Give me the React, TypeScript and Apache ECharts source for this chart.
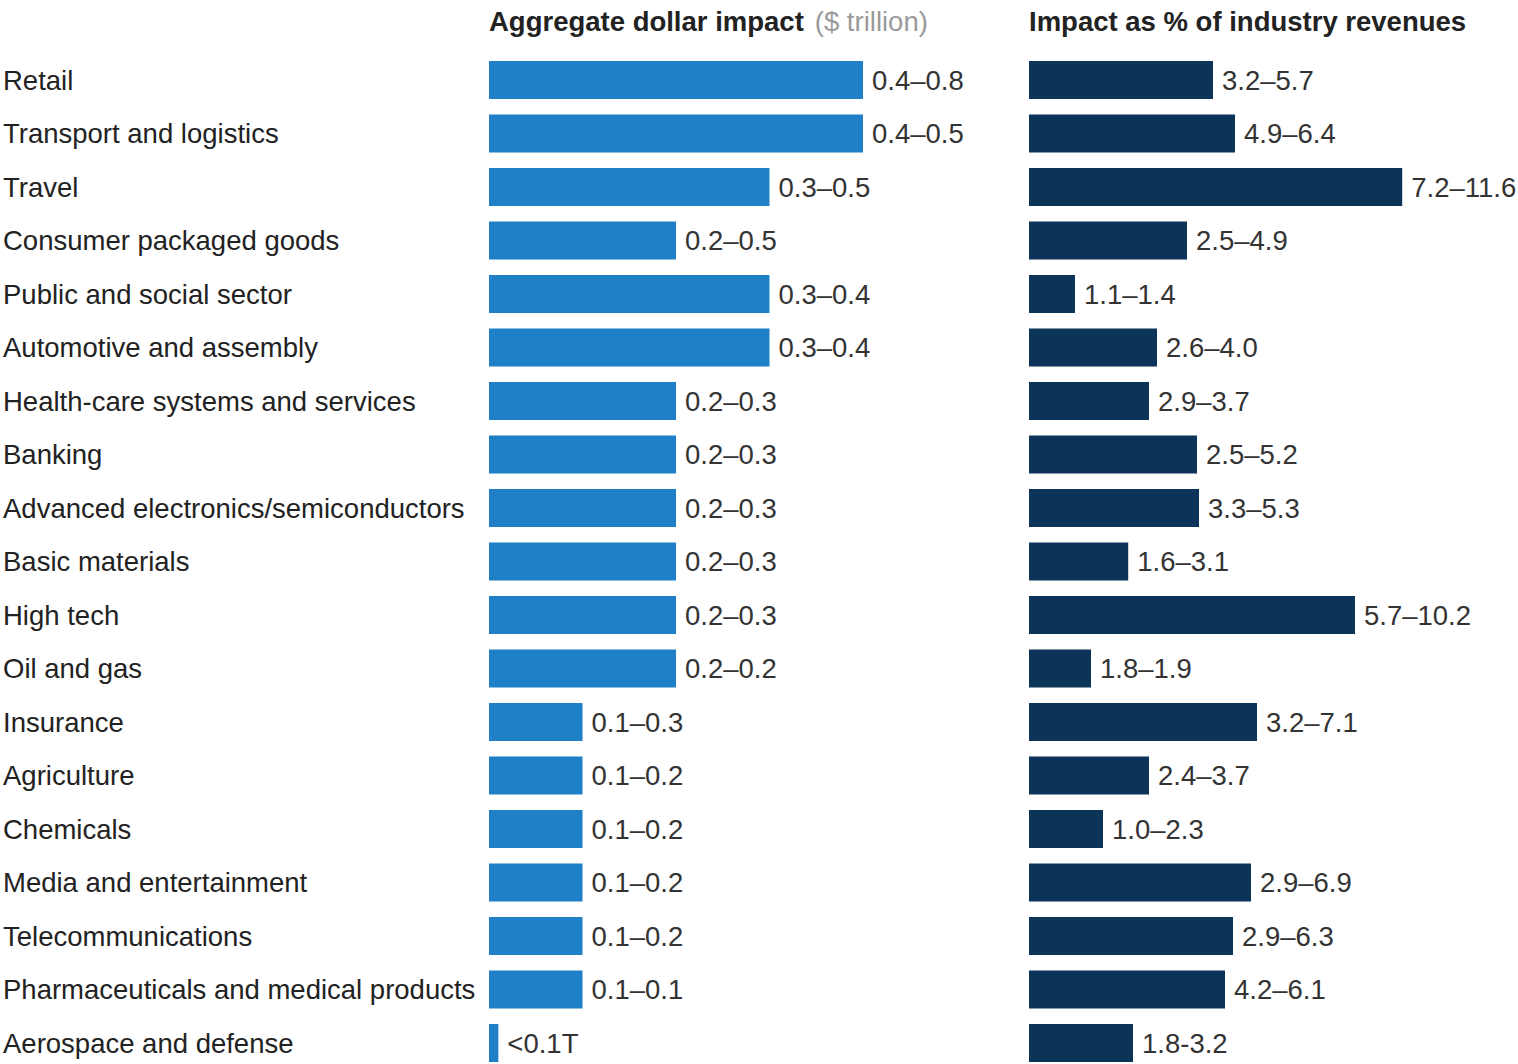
import React, { useEffect, useRef } from "react";
import * as echarts from "echarts";

const categories = [
  "Retail",
  "Transport and logistics",
  "Travel",
  "Consumer packaged goods",
  "Public and social sector",
  "Automotive and assembly",
  "Health-care systems and services",
  "Banking",
  "Advanced electronics/semiconductors",
  "Basic materials",
  "High tech",
  "Oil and gas",
  "Insurance",
  "Agriculture",
  "Chemicals",
  "Media and entertainment",
  "Telecommunications",
  "Pharmaceuticals and medical products",
  "Aerospace and defense",
];

// Aggregate dollar impact ($ trillion) — bar lengths as drawn
const dollarValues = [0.4, 0.4, 0.3, 0.2, 0.3, 0.3, 0.2, 0.2, 0.2, 0.2, 0.2, 0.2, 0.1, 0.1, 0.1, 0.1, 0.1, 0.1, 0.01];
const dollarLabels = [
  "0.4–0.8", "0.4–0.5", "0.3–0.5", "0.2–0.5", "0.3–0.4", "0.3–0.4", "0.2–0.3", "0.2–0.3", "0.2–0.3",
  "0.2–0.3", "0.2–0.3", "0.2–0.2", "0.1–0.3", "0.1–0.2", "0.1–0.2", "0.1–0.2", "0.1–0.2", "0.1–0.1", "<0.1T",
];

// Impact as % of industry revenues — bar lengths as drawn
const pctValues = [4.6, 5.15, 9.33, 3.95, 1.15, 3.2, 3.0, 4.2, 4.25, 2.48, 8.15, 1.55, 5.7, 3.0, 1.85, 5.55, 5.1, 4.9, 2.6];
const pctLabels = [
  "3.2–5.7", "4.9–6.4", "7.2–11.6", "2.5–4.9", "1.1–1.4", "2.6–4.0", "2.9–3.7", "2.5–5.2", "3.3–5.3",
  "1.6–3.1", "5.7–10.2", "1.8–1.9", "3.2–7.1", "2.4–3.7", "1.0–2.3", "2.9–6.9", "2.9–6.3", "4.2–6.1", "1.8-3.2",
];

const FONT = "'Liberation Sans', Arial, sans-serif";
const FS = 27.5;

export default function App() {
  const ref = useRef<HTMLDivElement>(null);
  useEffect(() => {
    if (!ref.current) return;
    const chart = echarts.init(ref.current, null, { renderer: "svg" });
    const gridTop = 53.25;
    const gridH = 1016.5;
    const labelStyle = {
      show: true,
      position: "right" as const,
      distance: 9,
      fontSize: FS,
      fontFamily: FONT,
      color: "#333",
    };
    chart.setOption({
      animation: false,
      backgroundColor: "#fff",
      textStyle: { fontFamily: FONT },
      grid: [
        { left: 489, top: gridTop, width: 467.5, height: gridH, outerBoundsMode: "none", containLabel: false },
        { left: 1029, top: gridTop, width: 480, height: gridH, outerBoundsMode: "none", containLabel: false },
      ],
      xAxis: [
        { type: "value", gridIndex: 0, min: 0, max: 0.5, show: false },
        { type: "value", gridIndex: 1, min: 0, max: 12, show: false },
      ],
      yAxis: [
        {
          type: "category",
          gridIndex: 0,
          data: categories,
          inverse: true,
          axisLine: { show: false },
          axisTick: { show: false },
          splitLine: { show: false },
          axisLabel: {
            align: "left",
            margin: 486,
            fontSize: FS,
            fontFamily: FONT,
            color: "#222",
          },
        },
        {
          type: "category",
          gridIndex: 1,
          data: categories,
          inverse: true,
          axisLine: { show: false },
          axisTick: { show: false },
          splitLine: { show: false },
          axisLabel: { show: false },
        },
      ],
      graphic: [
        {
          type: "text",
          x: 489,
          y: 21,
          style: {
            text: "{b|Aggregate dollar impact}{g|($ trillion)}",
            verticalAlign: "middle",
            rich: {
              b: { fontSize: FS, fontWeight: "bold", fontFamily: FONT, fill: "#222" },
              g: { fontSize: FS, fontFamily: FONT, fill: "#9a9a9a", padding: [0, 0, 0, 11] },
            },
          },
        },
        {
          type: "text",
          x: 1029,
          y: 21,
          style: {
            text: "Impact as % of industry revenues",
            verticalAlign: "middle",
            fontSize: FS,
            fontWeight: "bold",
            fontFamily: FONT,
            fill: "#222",
          },
        },
      ],
      series: [
        {
          type: "bar",
          xAxisIndex: 0,
          yAxisIndex: 0,
          data: dollarValues,
          barWidth: 38,
          itemStyle: { color: "#1f80c8" },
          label: { ...labelStyle, formatter: (p: any) => dollarLabels[p.dataIndex] },
        },
        {
          type: "bar",
          xAxisIndex: 1,
          yAxisIndex: 1,
          data: pctValues,
          barWidth: 38,
          itemStyle: { color: "#0c3358" },
          label: { ...labelStyle, formatter: (p: any) => pctLabels[p.dataIndex] },
        },
      ],
    });
    return () => chart.dispose();
  }, []);
  return (
    <div
      ref={ref}
      style={{ position: "absolute", left: 0, top: 0, width: 1518, height: 1064 }}
    />
  );
}
